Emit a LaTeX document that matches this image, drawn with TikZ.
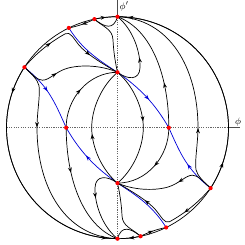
\documentclass[tikz,border=0pt]{standalone}
\usetikzlibrary{decorations.markings,arrows.meta}
\tikzset{
  flowline/.style={line width=0.6pt, black},
  blueline/.style={line width=0.6pt, blue!85!black},
  axisdash/.style={line width=0.4pt, black!60, dash pattern=on 1pt off 1pt},
  axisline/.style={line width=0.5pt, black!70},
  arr/.style={postaction={decorate, decoration={markings, mark=at position #1 with {\arrow{Stealth[length=4.5pt,width=3.3pt]}}}}},
  arrtwo/.style 2 args={postaction={decorate, decoration={markings, mark=at position #1 with {\arrow{Stealth[length=4.5pt,width=3.3pt]}}, mark=at position #2 with {\arrow{Stealth[length=4.5pt,width=3.3pt]}}}}},
  fpdot/.style={fill=red},
  lbl/.style={inner sep=0pt, font=\fontsize{8.5}{9}\selectfont},
}
\newcommand\halfset[2]{%
  % separatrices
  \draw[blueline] (A2#1) .. controls (-35.4,78.8) and (-21,69) .. (P#1);
  \draw[blueline,arr=0.55] (P#1) .. controls (22.9,39.3) and (37.3,24.2) .. (Q#2);
  \draw[blueline,arr=0.45] (A3#1) .. controls (-69.7,41.8) and (-63.5,27.4) .. (Q#1);
  % A3 -> S1
  \draw[flowline,arr=0.38] (A3#1) .. controls (-85,53) and (-80,47.5) .. (-75,47.5)
     .. controls (-68,47.5) and (-62,56) .. (-50,59.5)
     .. controls (-35,63.5) and (-15,62) .. (P#1);
  % A3 -> B
  \draw[flowline,arr=0.3] (A3#1) .. controls (-85,53) and (-80,48) .. (-78.5,42)
     .. controls (-77,34) and (-80.5,15) .. (-80.5,0)
     .. controls (-80.5,-60) and (-52,-109) .. (T#2);
  % S2 -> S1
  \draw[flowline,arr=0.5] (Q#1) .. controls (-51.5,29) and (-29,55.4) .. (P#1);
  % S3 -> T
  \draw[flowline,arr=0.35] (Q#2) .. controls (51.3,50) and (35,98) .. (T#1);
  % lens arc S1 -> S4
  \draw[flowline,arr=0.45] (P#1) .. controls (15.3,42.5) and (25.8,20) .. (25.8,0)
     .. controls (25.8,-20) and (15.3,-42.5) .. (P#2);
  % S1 -> T loop
  \draw[flowline,arr=0.46] (P#1) .. controls (10,48) and (22,47) .. (22.5,60)
     .. controls (23,75) and (16,98) .. (T#1);
  % A1 -> T cup
  \draw[flowline] (A1#1) .. controls (-13,100.5) and (-4,97) .. (T#1);
  % A3 -> near A2 -> S1
  \draw[flowline,arrtwo={0.3}{0.73}] (A3#1) .. controls (-81.5,74.3) and (-67.8,85.3) .. (-52.1,94)
     .. controls (-47,96.5) and (-44,89) .. (-38,82)
     .. controls (-31,74) and (-17,65) .. (P#1);
  % A1 -> A2 along boundary
  \draw[flowline,arr=0.5] (A1#1) .. controls (106.5:109) and (111.5:109) .. (A2#1);
  % A1 -> S1 along axis
  \draw[flowline] (A1#1) .. controls (-15,101) and (-5,99) .. (-4.5,88)
     .. controls (-4,75) and (-1.5,62) .. (P#1);
  % flow on the boundary circle
  \draw[flowline,arr=0.5] (A1#1) arc[start angle=102,end angle=90,radius=111];
  \draw[flowline,arrtwo={0.12}{0.955}] (A3#1) arc[start angle=147,end angle=270,radius=111];
}
\begin{document}
\begin{tikzpicture}[x=0.03cm,y=0.03cm]
\useasboundingbox (-117.5,-117.3) rectangle (127.5,127.7);
\coordinate (O) at (0,0);
\coordinate (Tu) at (90:111);  \coordinate (Td) at (270:111);
\coordinate (A1u) at (102:111); \coordinate (A1d) at (282:111);
\coordinate (A2u) at (116:111); \coordinate (A2d) at (296:111);
\coordinate (A3u) at (147:111); \coordinate (A3d) at (327:111);
\coordinate (Pu) at (0,55.4);   \coordinate (Pd) at (0,-55.4);
\coordinate (Qu) at (-51.3,0);  \coordinate (Qd) at (51.3,0);
\coordinate (Xl) at (180:111);  \coordinate (Xc) at (0:111);
\coordinate (Xr) at (122.5,0);  \coordinate (Yt) at (0,127.7);
% axes
\draw[axisdash] (Xl) -- (Xc);
\draw[axisline] (Xc) -- (Xr);
\draw[axisdash] (Td) -- (Tu);
\draw[axisline] (Tu) -- (Yt);
% boundary circle
\draw[flowline] (O) circle[radius=111];
% trajectories, centrally symmetric
\halfset{u}{d}
\begin{scope}[rotate=180]
  \halfset{d}{u}
\end{scope}
% fixed points
\foreach \p in {Tu,Td,A1u,A1d,A2u,A2d,A3u,A3d,Pu,Pd,Qu,Qd}
  \fill[fpdot] (\p) circle[radius=2.1];
% labels
\node[lbl,anchor=north west] (lphip) at (2,126) {$\phi'$};
\node[lbl] (lphi) at (120.5,5.5) {$\phi$};
\end{tikzpicture}
\end{document}
